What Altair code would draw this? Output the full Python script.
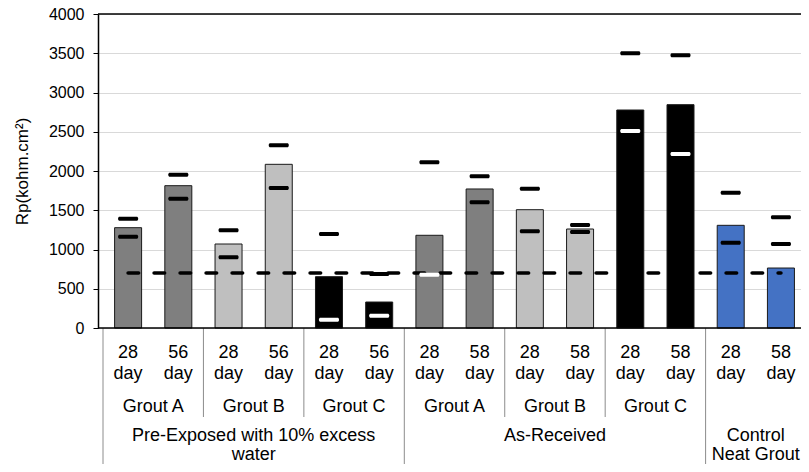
import altair as alt
import pandas as pd

# ---------------- data ----------------
ages = ["28 day", "56 day", "28 day", "56 day", "28 day", "56 day",
        "28 day", "58 day", "28 day", "58 day", "28 day", "58 day",
        "28 day", "58 day"]
bar_grout = ["Grout A", "Grout A", "Grout B", "Grout B", "Grout C", "Grout C",
             "Grout A", "Grout A", "Grout B", "Grout B", "Grout C", "Grout C",
             "Control", "Control"]
grout_labels = ["Grout A", "Grout B", "Grout C", "Grout A", "Grout B", "Grout C", ""]
conditions = ["Pre-Exposed with 10% excess\nwater", "As-Received", "Control\nNeat Grout"]
condition_sizes = [6, 6, 2]

rp_mean = [1278, 1813, 1070, 2085, 654, 331, 1181, 1771, 1507, 1261, 2777, 2845, 1308, 764]
rp_high = [1392, 1953, 1244, 2327, 1197, 688, 2111, 1932, 1775, 1312, 3499, 3473, 1724, 1410]
rp_low = [1163, 1647, 900, 1783, 106, 157, 679, 1601, 1232, 1223, 2510, 2217, 1087, 1070]
low_marker = ["black", "black", "black", "black", "white", "white", "white",
              "black", "black", "black", "white", "white", "black", "black"]
threshold = [700, 700, 700, 700, 700, 700, 700, 700, 700, 700, 700, 700, 700, 700]
y_ticks = [0, 500, 1000, 1500, 2000, 2500, 3000, 3500, 4000]

grout_colors = {"Grout A": "#7f7f7f", "Grout B": "#bfbfbf",
                "Grout C": "#000000", "Control": "#4472c4"}

FONT = "Liberation Sans"
FS = 18

# ---------------- tables ----------------
n = len(ages)
df = pd.DataFrame({
    "slot": list(range(n)),
    "age": ages,
    "grout": bar_grout,
    "mean": rp_mean,
    "high": rp_high,
    "low": rp_low,
    "lowcol": low_marker,
    "thr": threshold,
})
df["pos"] = df["slot"] + 0.5

g = pd.DataFrame({"label": grout_labels})
g["pos"] = [2 * i + 1 for i in range(len(grout_labels))]
g = g[g["label"] != ""]

bounds = [0]
for s in condition_sizes:
    bounds.append(bounds[-1] + s)
c = pd.DataFrame({"label": conditions,
                  "pos": [(bounds[i] + bounds[i + 1]) / 2 for i in range(len(conditions))]})

major = pd.DataFrame({"b": bounds})
minor = pd.DataFrame({"b": [b for b in range(0, n + 1, 2) if b not in bounds]})
frame = pd.DataFrame({"v": [y_ticks[0], y_ticks[-1]]})

# the reference plot runs past the right edge of the picture
xs = alt.Scale(domain=[0, 13.8], nice=False, zero=False)
ys = alt.Scale(domain=[y_ticks[0], y_ticks[-1]], nice=False)
X = alt.X("pos:Q", scale=xs, axis=None)
YAX = alt.Axis(values=y_ticks, format="d", grid=True, gridColor="#d9d9d9", gridWidth=1,
               domainColor="black", domainWidth=1.5,
               tickColor="black", tickSize=5, tickWidth=1,
               labelPadding=9, labelFont=FONT, labelFontSize=16,
               labelColor="black", titleFont=FONT, titleFontSize=17,
               titleFontWeight="normal", titleColor="black", titlePadding=17)
TITLE = "Rp(kohm.cm²)"


def Y(field):
    return alt.Y(field, type="quantitative", scale=ys, axis=YAX, title=TITLE)


base = alt.Chart(df)

bars = base.mark_bar(size=27, stroke="#1a1a1a", strokeWidth=1, opacity=1).encode(
    x=X, y=Y("mean"),
    color=alt.Color("grout:N", scale=alt.Scale(domain=list(grout_colors.keys()),
                                               range=list(grout_colors.values())),
                    legend=None),
)

line = base.mark_line(color="black", strokeWidth=3.6, strokeDash=[10.5, 15.5],
                      strokeCap="round").encode(x=X, y=Y("thr"))

hi = base.mark_tick(orient="horizontal", size=20, thickness=4, color="black",
                    opacity=1, cornerRadius=1.5).encode(x=X, y=Y("high"))

lo = base.mark_tick(orient="horizontal", size=20, thickness=4, opacity=1,
                    cornerRadius=1.5).encode(
    x=X, y=Y("low"), color=alt.Color("lowcol:N", scale=None))

border = alt.Chart(frame).mark_rule(color="black", strokeWidth=1.5).encode(y=Y("v"))

# ---------------- multi-level category axis ----------------
age_text = base.mark_text(font=FONT, fontSize=FS, lineBreak=" ", lineHeight=21.5,
                          align="center", baseline="alphabetic", color="black").encode(
    x=X, y=alt.value(343.5), text="age:N")

grout_text = alt.Chart(g).mark_text(font=FONT, fontSize=FS, align="center",
                                    baseline="alphabetic", color="black").encode(
    x=alt.X("pos:Q", scale=xs, axis=None), y=alt.value(398), text="label:N")

cond_text = alt.Chart(c).mark_text(font=FONT, fontSize=FS, lineBreak="\n", lineHeight=19,
                                   align="center", baseline="alphabetic",
                                   color="black").encode(
    x=alt.X("pos:Q", scale=xs, axis=None), y=alt.value(427), text="label:N")

major_rules = alt.Chart(major).mark_rule(color="#8c8c8c", strokeWidth=1).encode(
    x=alt.X("b:Q", scale=xs, axis=None), y=alt.value(314), y2=alt.value(452))

minor_rules = alt.Chart(minor).mark_rule(color="#8c8c8c", strokeWidth=1).encode(
    x=alt.X("b:Q", scale=xs, axis=None), y=alt.value(314), y2=alt.value(403))

chart = alt.layer(
    major_rules, minor_rules, bars, line, hi, lo, border, age_text, grout_text, cond_text
).properties(
    width=703, height=314, autosize="none",
    padding={"left": 90, "top": 6, "right": 0, "bottom": 136},
).configure_view(stroke=None)

chart.save("out.html", embed_options={"renderer": "svg", "actions": False})
